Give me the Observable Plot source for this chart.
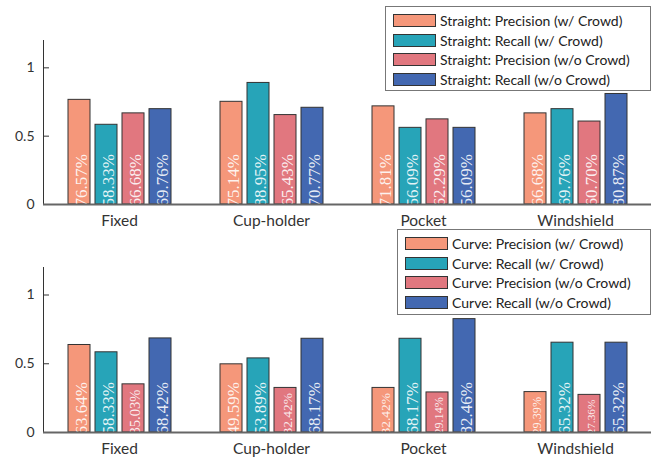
<!DOCTYPE html>
<html>
<head>
<meta charset="utf-8">
<script src="https://cdn.jsdelivr.net/npm/d3@7"></script>
<script src="https://cdn.jsdelivr.net/npm/@observablehq/plot@0.6"></script>
<style>
  body { margin: 0; background: #fff; }
  #wrap { position: relative; width: 660px; height: 462px; overflow: hidden; }
  #wrap svg { display: block; }
  .legend { position: absolute; background: #fff; border: 1px solid #777; box-sizing: border-box;
            font-family: Lato, sans-serif; font-size: 14px; color: #222; padding: 4px 0 0 7px; }
  .row { display: flex; align-items: center; height: 19.5px; white-space: nowrap; }
  .sw { width: 43px; height: 13px; border: 1px solid #333; box-sizing: border-box; margin-right: 4px; }
</style>
</head>
<body>
<div id="wrap">
  <div id="top"></div>
  <div id="bot"></div>
  <div id="legTop" class="legend" style="left:385px; top:6px; width:266px; height:85px;"></div>
  <div id="legBot" class="legend" style="left:397px; top:229px; width:254px; height:86px;"></div>
</div>
<script>
const categories = ["Fixed", "Cup-holder", "Pocket", "Windshield"];
const seriesNames = ["Precision (w/ Crowd)", "Recall (w/ Crowd)", "Precision (w/o Crowd)", "Recall (w/o Crowd)"];
const colors = ["#F5977A", "#27A4B8", "#E1777F", "#4368B1"];

// Straight (top panel): one array per series, in category order
const straightPrecisionW  = [0.7657, 0.7514, 0.7181, 0.6668];
const straightRecallW     = [0.5833, 0.8895, 0.5609, 0.6976];
const straightPrecisionWo = [0.6668, 0.6543, 0.6229, 0.6070];
const straightRecallWo    = [0.6976, 0.7077, 0.5609, 0.8087];

// Curve (bottom panel)
const curvePrecisionW  = [0.6364, 0.4959, 0.3242, 0.2939];
const curveRecallW     = [0.5833, 0.5389, 0.6817, 0.6532];
const curvePrecisionWo = [0.3503, 0.3242, 0.2914, 0.2736];
const curveRecallWo    = [0.6842, 0.6817, 0.8246, 0.6532];

const yTicks = [0, 0.5, 1];

function build(seriesArrays) {
  const rows = [];
  categories.forEach((c, i) => seriesNames.forEach((s, j) => rows.push({cat: c, ser: s, v: seriesArrays[j][i]})));
  return rows;
}

function panel(rows, marginTop, marginBottom) {
  return Plot.plot({
    width: 660, height: 231,
    marginLeft: 42, marginRight: 8, marginTop, marginBottom,
    style: {fontFamily: "Lato, sans-serif", fontSize: "14px", color: "#333", background: "white"},
    fx: {domain: categories, padding: 0, label: null, axis: null},
    x: {domain: seriesNames, axis: null, paddingInner: 0.2, paddingOuter: 0.85},
    y: {domain: [0, 1.2], axis: "left", line: true, ticks: yTicks, tickSize: -6, tickPadding: 15,
        tickFormat: d => String(d), label: null},
    color: {domain: seriesNames, range: colors},
    marks: [
      Plot.barY(rows, {fx: "cat", x: "ser", y: "v", fill: "ser", stroke: "#333", strokeWidth: 1}),
      Plot.text(rows, {
        fx: "cat", x: "ser", y: 0, dy: 2, dx: 2,
        text: d => (d.v * 100).toFixed(2) + "%",
        rotate: -90, textAnchor: "start", lineAnchor: "middle",
        fill: "white", fillOpacity: 0.88,
        fontFamily: "Liberation Serif, serif",
        fontSize: d => Math.min(17, d.v * 137 / 3.3)
      }),
      Plot.ruleX(categories, {fx: d => d, y1: 0, y2: 0.03, stroke: "#666", strokeWidth: 1}),
      Plot.ruleY([0], {stroke: "#666", strokeWidth: 2}),
      Plot.axisFx({anchor: "bottom", tickSize: 0, tickPadding: 10, fontSize: 15.5, fill: "#333", label: null})
    ]
  });
}

const topRows = build([straightPrecisionW, straightRecallW, straightPrecisionWo, straightRecallWo]);
const botRows = build([curvePrecisionW, curveRecallW, curvePrecisionWo, curveRecallWo]);

document.getElementById("top").append(panel(topRows, 40, 27));
document.getElementById("bot").append(panel(botRows, 36, 30));

function legend(el, prefix) {
  seriesNames.forEach((s, j) => {
    const row = document.createElement("div");
    row.className = "row";
    const sw = document.createElement("div");
    sw.className = "sw";
    sw.style.background = colors[j];
    const t = document.createElement("span");
    t.textContent = prefix + ": " + s;
    row.append(sw, t);
    el.append(row);
  });
}
legend(document.getElementById("legTop"), "Straight");
legend(document.getElementById("legBot"), "Curve");
</script>
</body>
</html>
